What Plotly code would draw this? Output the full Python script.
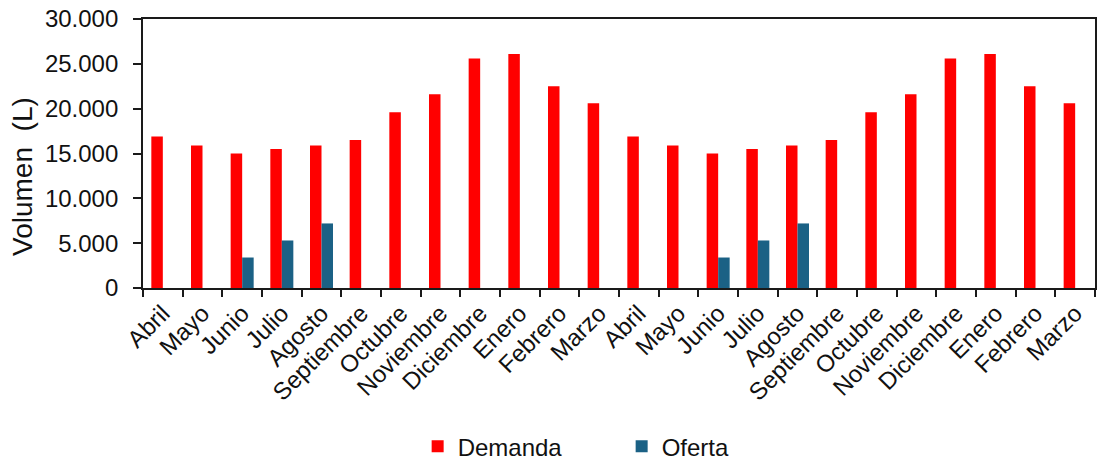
import plotly.graph_objects as go

# Meses del ciclo (dos ciclos consecutivos, abril a marzo)
meses = ["Abril", "Mayo", "Junio", "Julio", "Agosto", "Septiembre",
         "Octubre", "Noviembre", "Diciembre", "Enero", "Febrero", "Marzo",
         "Abril", "Mayo", "Junio", "Julio", "Agosto", "Septiembre",
         "Octubre", "Noviembre", "Diciembre", "Enero", "Febrero", "Marzo"]

# Volúmenes mensuales en litros
demanda = [16900, 15900, 15000, 15500, 15900, 16500,
           19600, 21600, 25600, 26100, 22500, 20600,
           16900, 15900, 15000, 15500, 15900, 16500,
           19600, 21600, 25600, 26100, 22500, 20600]
oferta = [None, None, 3400, 5300, 7200, None,
          None, None, None, None, None, None,
          None, None, 3400, 5300, 7200, None,
          None, None, None, None, None, None]

pos = list(range(len(meses)))

FONT = "Liberation Sans, Arial, sans-serif"
AXIS = "#1a1a1a"

fig = go.Figure()
fig.add_trace(go.Bar(x=pos, y=demanda, name="Demanda",
                     marker=dict(color="#FF0000", line=dict(width=0))))
fig.add_trace(go.Bar(x=pos, y=oferta, name="Oferta",
                     marker=dict(color="#1B6185", line=dict(width=0))))

fig.update_layout(
    width=1097, height=460,
    margin=dict(l=143, r=2, t=19, b=172, autoexpand=False),
    paper_bgcolor="white", plot_bgcolor="white",
    barmode="group", bargap=0.42, bargroupgap=0,
    separators=",.",
    font=dict(family=FONT, size=24, color="#111111"),
    showlegend=True,
    legend=dict(orientation="h", x=0.2885, xanchor="left",
                y=-0.59, yanchor="middle",
                font=dict(size=24), itemwidth=30,
                entrywidth=159, entrywidthmode="pixels",
                bgcolor="rgba(0,0,0,0)"),
)

# Eje de categorías numérico: marcas entre meses, etiquetas en el centro
fig.update_xaxes(
    range=[-0.5, len(meses) - 0.5],
    tickmode="array", tickvals=pos, ticktext=meses,
    tickangle=-45, ticks="", showgrid=False, zeroline=False,
    showline=True, linecolor=AXIS, linewidth=1.8, mirror=True,
    tickfont=dict(size=24),
    minor=dict(tickmode="linear", tick0=-0.5, dtick=1, ticks="outside",
               ticklen=7, tickwidth=1.8, tickcolor=AXIS, showgrid=False),
)
fig.update_yaxes(
    range=[0, 30000], dtick=5000, tickformat=",d",
    ticks="outside", ticklen=8, tickwidth=1.8, tickcolor=AXIS,
    showgrid=False, zeroline=False,
    showline=True, linecolor=AXIS, linewidth=1.8, mirror=True,
    tickfont=dict(size=24), ticklabelstandoff=10,
)

fig.add_annotation(
    text="Volumen\u00a0\u00a0(L)", textangle=-90,
    xref="paper", yref="paper", x=-0.126, y=0.413,
    xanchor="center", yanchor="middle", showarrow=False,
    font=dict(size=28),
)

fig.write_html("out.html")
